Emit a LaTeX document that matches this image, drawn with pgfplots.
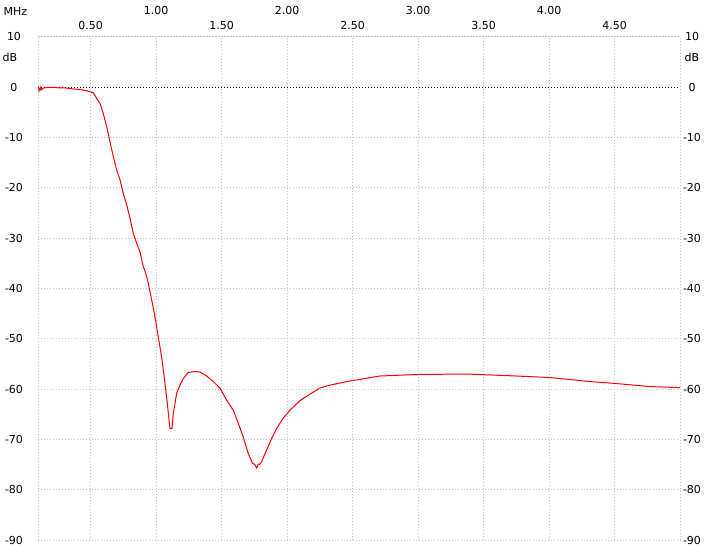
\documentclass[border=0pt]{standalone}
\usepackage{fontspec}
\setmainfont{DejaVu Sans}
\usepackage{pgfplots}
\pgfplotsset{compat=1.18}
\definecolor{gridgray}{HTML}{C0C0C0}
\definecolor{trace}{HTML}{FF0000}

\pgfplotsset{
  sweep/.style={
    scale only axis,
    width=641.7pt, height=503pt,
    at={(0,0)}, anchor=south west,
    xmin=0.1, xmax=5.0, ymin=-90, ymax=10,
    ytick={-90,-80,...,10},
    major tick length=0pt,
    tick label style={font=\fontsize{11}{13}\selectfont},
    /pgf/number format/assume math mode=true,
  },
}

\begin{document}
\begin{tikzpicture}
\begin{axis}[
  sweep,
  xtick={0.5,1.5,2.5,3.5,4.5},
  xticklabels={0.50,1.50,2.50,3.50,4.50},
  extra x ticks={1,2,3,4},
  extra x tick labels={1.00,2.00,3.00,4.00},
  extra x tick style={grid=major, xticklabel style={yshift=14.5pt}},
  xticklabel pos=right,
  xticklabel style={anchor=center, yshift=11.5pt},
  yticklabel style={anchor=center, xshift=-24.3pt},
  grid=major,
  grid style={gridgray, line width=1pt, dash pattern=on 1pt off 2pt},
  axis line style={gridgray, line width=1pt, dash pattern=on 1pt off 2pt},
]
% 0 dB reference line
\addplot[black, line width=1pt, dash pattern=on 1pt off 2pt, forget plot]
  coordinates {(0.1,0) (5.0,0)};

% measured response
\addplot[trace, line width=1pt, sharp plot] coordinates {
  (0.100,-0.9) (0.105,-0.2) (0.112,-0.6) (0.118,0.0) (0.125,-0.5)
  (0.135,-0.2) (0.150,-0.1) (0.170,0.0) (0.189,0.0) (0.220,0.0)
  (0.250,-0.1) (0.291,-0.1) (0.330,-0.2) (0.360,-0.3) (0.393,-0.4)
  (0.430,-0.5) (0.469,-0.7) (0.500,-0.9) (0.520,-1.1) (0.546,-2.2)
  (0.571,-3.2) (0.596,-5.2) (0.622,-7.8) (0.647,-10.8) (0.673,-13.8)
  (0.698,-16.4) (0.724,-18.4) (0.749,-21.1) (0.775,-23.4) (0.800,-26.0)
  (0.825,-29.0) (0.851,-31.0) (0.876,-32.7) (0.902,-35.7) (0.915,-36.5)
  (0.940,-39.0) (0.966,-42.3) (0.991,-45.6) (1.016,-49.6) (1.042,-53.6)
  (1.067,-58.8) (1.085,-62.8) (1.105,-67.8) (1.121,-67.8) (1.131,-64.8)
  (1.157,-60.8) (1.182,-59.2) (1.207,-57.9) (1.245,-56.7) (1.296,-56.5)
  (1.334,-56.6) (1.386,-57.4) (1.436,-58.5) (1.487,-59.8) (1.538,-62.2)
  (1.589,-64.2) (1.627,-66.8) (1.665,-69.5) (1.703,-72.8) (1.737,-74.8)
  (1.750,-74.9) (1.760,-75.3) (1.767,-75.7) (1.780,-74.9) (1.790,-75.0)
  (1.805,-74.4) (1.844,-72.1) (1.882,-69.8) (1.920,-67.8) (1.970,-65.8)
  (2.021,-64.2) (2.098,-62.3) (2.174,-61.0) (2.250,-59.8) (2.327,-59.2)
  (2.479,-58.4) (2.708,-57.4) (2.989,-57.1) (3.370,-57.0) (3.752,-57.4)
  (4.006,-57.7) (4.311,-58.5) (4.515,-58.9) (4.770,-59.5) (5.000,-59.7)
};
\end{axis}

% right-hand dB scale
\begin{axis}[
  sweep,
  xtick=\empty,
  yticklabel pos=right,
  yticklabel style={anchor=center, xshift=12pt},
  axis line style={draw=none},
]
\end{axis}

\node[font=\fontsize{11}{13}\selectfont] at (-22.8pt,529pt) {MHz};
\node[font=\fontsize{11}{13}\selectfont] at (-28.3pt,482.5pt) {dB};
\node[font=\fontsize{11}{13}\selectfont] at (653.7pt,482.5pt) {dB};

\pgfresetboundingbox
\useasboundingbox (-38.3pt,-12pt) rectangle (665.7pt,540pt);
\end{tikzpicture}
\end{document}
